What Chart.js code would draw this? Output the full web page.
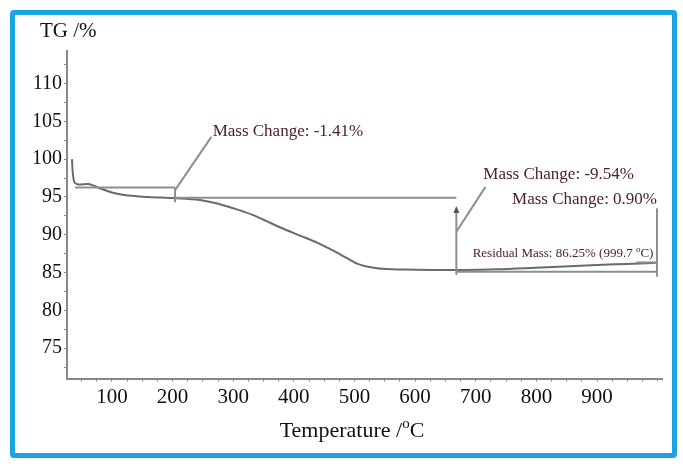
<!DOCTYPE html>
<html>
<head>
<meta charset="utf-8">
<script src="https://cdn.jsdelivr.net/npm/chart.js@4/dist/chart.umd.min.js"></script>
<style>
    html, body { margin: 0; padding: 0; background: #fff; }
    #wrap { position: relative; width: 683px; height: 470px; }
    #frame {
        position: absolute; left: 10px; top: 10px; width: 667px; height: 448px;
        box-sizing: border-box; border: 5px solid #1ca3e3; border-radius: 4px;
        pointer-events: none;
    }
</style>
</head>
<body>
<div id="wrap">
    <canvas id="tg-chart" width="683" height="470"></canvas>
    <div id="frame"></div>
</div>
<script>
// TG curve
const temps = [34, 35, 37, 40, 45, 60, 70, 80, 100, 120, 160, 200, 245, 270, 300, 330, 355, 380, 410, 440, 465, 490, 505, 520, 540, 580, 625, 680, 735, 790, 845, 900, 950, 997];
const tgValues = [100.0, 98.5, 97.2, 96.8, 96.65, 96.7, 96.5, 96.15, 95.6, 95.25, 95.0, 94.85, 94.6, 94.2, 93.5, 92.7, 91.8, 90.9, 89.9, 88.9, 87.9, 86.8, 86.15, 85.8, 85.55, 85.4, 85.34, 85.35, 85.43, 85.6, 85.8, 86.0, 86.15, 86.3];

const xTickLabels = [100, 200, 300, 400, 500, 600, 700, 800, 900];
const yTickLabels = [75, 80, 85, 90, 95, 100, 105, 110];

// annotation marks, in temperature / TG units
const noteLines = [
    [39, 96.26, 204, 96.26],
    [204, 96.26, 204, 94.3],
    [204, 95.9, 264, 102.95],
    [204, 94.9, 668, 94.9],
    [668, 84.7, 668, 93.3],
    [668, 90.4, 716, 96.34],
    [999, 93.5, 999, 84.45],
    [668, 85.1, 999, 85.1],
    [965, 86.35, 999, 86.35],
];
const arrowTip = [668, 93.8];
const noteTexts = [
    [266, 103.7, 'Mass Change: -1.41%', 'left'],
    [712.5, 98.0, 'Mass Change: -9.54%', 'left'],
    [999, 94.7, 'Mass Change: 0.90%', 'right'],
];
const residualNote = [993, 87.55, 'Residual Mass: 86.25% (999.7 ', 'C)'];

const serif = '"Liberation Serif", "DejaVu Serif", serif';

function range(from, to, step) {
    const out = [];
    for (let v = from; v <= to + 1e-9; v += step) out.push(Math.round(v * 10) / 10);
    return out;
}

// draws "o" raised, like the degree mark in the picture
function drawSup(ctx, text, x, y, size) {
    ctx.font = `${size}px ${serif}`;
    ctx.textAlign = 'left';
    ctx.fillText(text, x, y);
    return ctx.measureText(text).width;
}

const notesPlugin = {
    id: 'notes',
    afterDatasetsDraw(chart) {
        const { ctx, scales: { x, y } } = chart;
        const px = v => x.getPixelForValue(v);
        const py = v => y.getPixelForValue(v);

        ctx.save();
        ctx.strokeStyle = '#8e8e8e';
        ctx.lineWidth = 2;
        noteLines.forEach((l) => {
            ctx.beginPath();
            ctx.moveTo(px(l[0]), py(l[1]));
            ctx.lineTo(px(l[2]), py(l[3]));
            ctx.stroke();
        });

        // arrow head
        ctx.fillStyle = '#555';
        const ax = px(arrowTip[0]), ay = py(arrowTip[1]);
        ctx.beginPath();
        ctx.moveTo(ax, ay);
        ctx.lineTo(ax - 3, ay + 7);
        ctx.lineTo(ax + 3, ay + 7);
        ctx.closePath();
        ctx.fill();

        ctx.fillStyle = '#4e2224';
        ctx.textBaseline = 'middle';
        ctx.font = `17px ${serif}`;
        noteTexts.forEach((t) => {
            ctx.textAlign = t[3];
            ctx.fillText(t[2], px(t[0]), py(t[1]));
        });

        // residual mass, right aligned with a raised "o"
        ctx.font = `13px ${serif}`;
        const mainW = ctx.measureText(residualNote[2]).width;
        ctx.font = `9px ${serif}`;
        const supW = ctx.measureText('o').width;
        ctx.font = `13px ${serif}`;
        const tailW = ctx.measureText(residualNote[3]).width;
        let rx = px(residualNote[0]) - mainW - supW - tailW;
        const ry = py(residualNote[1]);
        ctx.textAlign = 'left';
        ctx.fillText(residualNote[2], rx, ry);
        rx += mainW;
        rx += drawSup(ctx, 'o', rx, ry - 4, 9);
        ctx.font = `13px ${serif}`;
        ctx.fillText(residualNote[3], rx, ry);

        // axis titles
        ctx.fillStyle = '#111';
        ctx.textBaseline = 'alphabetic';
        ctx.font = `21px ${serif}`;
        ctx.textAlign = 'left';
        ctx.fillText('TG /%', 40, 37);

        ctx.font = `22px ${serif}`;
        const t1 = 'Temperature /';
        const w1 = ctx.measureText(t1).width;
        ctx.font = `15px ${serif}`;
        const w2 = ctx.measureText('o').width;
        ctx.font = `22px ${serif}`;
        const w3 = ctx.measureText('C').width;
        let tx = 352 - (w1 + w2 + w3) / 2;
        ctx.fillText(t1, tx, 437);
        tx += w1;
        tx += drawSup(ctx, 'o', tx, 428, 15);
        ctx.font = `22px ${serif}`;
        ctx.fillText('C', tx, 437);
        ctx.restore();
    }
};

new Chart(document.getElementById('tg-chart'), {
    type: 'line',
    data: {
        datasets: [{
            data: temps.map((t, i) => ({ x: t, y: tgValues[i] })),
            borderColor: '#6a6a6a',
            borderWidth: 2,
            pointRadius: 0,
            cubicInterpolationMode: 'monotone',
            fill: false,
        }],
    },
    options: {
        responsive: false,
        animation: false,
        events: [],
        layout: { padding: { left: 0, top: 51, right: 21, bottom: 0 } },
        plugins: { legend: { display: false }, tooltip: { enabled: false } },
        scales: {
            x: {
                type: 'linear',
                min: 25.8,
                max: 1007.2,
                afterFit: (scale) => { scale.height = 91.5; },
                afterBuildTicks: (scale) => { scale.ticks = range(50, 1000, 25).map(v => ({ value: v })); },
                border: { color: '#888', width: 2 },
                grid: { drawOnChartArea: false, tickLength: 3, color: '#888' },
                ticks: {
                    autoSkip: false,
                    maxRotation: 0,
                    padding: 3,
                    color: '#111',
                    font: { family: serif, size: 21 },
                    callback: v => xTickLabels.includes(v) ? String(v) : '',
                },
            },
            y: {
                type: 'linear',
                min: 71.0,
                max: 114.3,
                afterFit: (scale) => { scale.width = 67; },
                afterBuildTicks: (scale) => { scale.ticks = range(72.5, 112.5, 2.5).map(v => ({ value: v })); },
                border: { color: '#888', width: 2 },
                grid: { drawOnChartArea: false, tickLength: 3, color: '#888' },
                ticks: {
                    autoSkip: false,
                    padding: 2,
                    color: '#111',
                    font: { family: serif, size: 20 },
                    callback: v => yTickLabels.includes(v) ? String(v) : '',
                },
            },
        },
    },
    plugins: [notesPlugin],
});
</script>
</body>
</html>
